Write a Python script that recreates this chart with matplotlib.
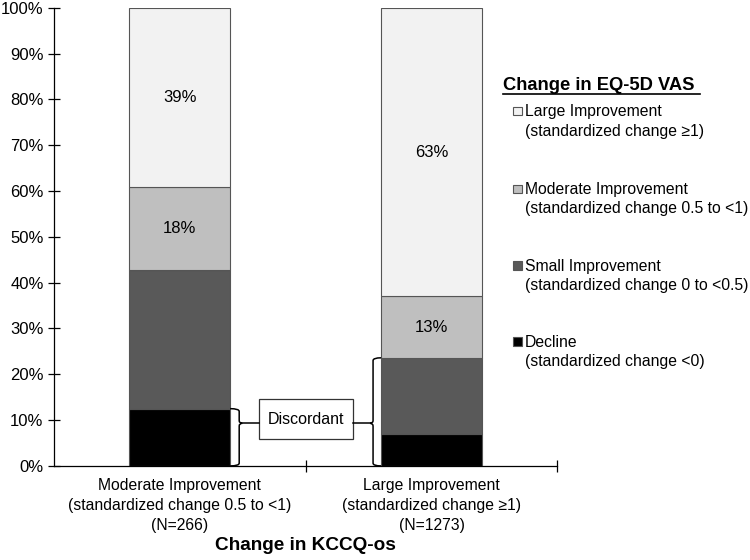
import numpy as np
import matplotlib
matplotlib.use('Agg')
import matplotlib.pyplot as plt
from matplotlib.patches import Rectangle, PathPatch
from matplotlib.path import Path

plt.rcParams['font.family'] = ['Liberation Sans', 'DejaVu Sans']

# data (percent of patients)
groups = ['Moderate Improvement\n(standardized change 0.5 to <1)\n(N=266)',
          'Large Improvement\n(standardized change \u22651)\n(N=1273)']
decline = [12.5, 7.0]
small = [30.3, 16.6]
moderate = [18.1, 13.4]
large = [39.1, 63.0]
shown = {'moderate': ['18%', '13%'], 'large': ['39%', '63%']}

series = [
    ('Decline\n(standardized change <0)', decline, '#000000'),
    ('Small Improvement\n(standardized change 0 to <0.5)', small, '#595959'),
    ('Moderate Improvement\n(standardized change 0.5 to <1)', moderate, '#bfbfbf'),
    ('Large Improvement\n(standardized change \u22651)', large, '#f2f2f2'),
]

fig = plt.figure(figsize=(7.5, 5.6), dpi=100)
ax = fig.add_axes([0.072, 0.168, 0.671, 0.818])

x = np.arange(len(groups))
w = 0.4
bottom = np.zeros(len(groups))
bars = {}
for name, vals, col in series:
    ax.bar(x, vals, w, bottom=bottom, color=col, edgecolor='#555555', linewidth=0.8)
    bars[name.split('\n')[0]] = (bottom.copy(), np.array(vals))
    bottom += np.array(vals)

# percentage labels inside the bars
for key, lab in [('Moderate Improvement', 'moderate'), ('Large Improvement', 'large')]:
    b0, v = bars[key]
    for i in range(len(groups)):
        ax.text(x[i], b0[i] + v[i] / 2, shown[lab][i], ha='center', va='center', fontsize=12)

ax.set_xlim(-0.5, 1.5)
ax.set_ylim(0, 100)
ax.set_yticks(np.arange(0, 101, 10))
ax.set_yticklabels(['%d%%' % t for t in range(0, 101, 10)], fontsize=12)
ax.set_xticks(x)
ax.set_xticklabels(groups, fontsize=11.3, linespacing=1.4)
ax.set_xticks([0.5, 1.5], minor=True)
ax.tick_params(axis='x', which='major', length=0, pad=9)
ax.tick_params(axis='x', which='minor', direction='inout', length=9, width=0.9)
ax.tick_params(axis='y', direction='inout', length=9, width=0.9, pad=3)
ax.spines['top'].set_visible(False)
ax.spines['right'].set_visible(False)
ax.spines['left'].set_linewidth(0.9)
ax.spines['bottom'].set_linewidth(0.9)
ax.set_xlabel('Change in KCCQ-os', fontsize=13.7, fontweight='bold', labelpad=3)


def brace(ax, xe, xs, xt, y0, y1, yt):
    # curly bracket: ends at xe, spine at xs, tip at xt
    d = 0.6
    verts = [(xe, y1), (xs, y1), (xs, y1 - d),
             (xs, yt + d), (xs, yt), (xt, yt),
             (xs, yt), (xs, yt - d),
             (xs, y0 + d), (xs, y0), (xe, y0)]
    codes = [Path.MOVETO, Path.CURVE3, Path.CURVE3,
             Path.LINETO, Path.CURVE3, Path.CURVE3,
             Path.CURVE3, Path.CURVE3,
             Path.LINETO, Path.CURVE3, Path.CURVE3]
    ax.add_patch(PathPatch(Path(verts, codes), fill=False, lw=1.1, color='black', clip_on=False))


yt = 9.3
top_left = decline[0]
top_right = decline[1] + small[1]
brace(ax, 0.2, 0.236, 0.248, 0, top_left, yt)
ax.plot([0.248, 0.315], [yt, yt], color='black', lw=1.1)
ax.add_patch(Rectangle((0.315, 5.9), 0.374, 8.7, fill=False, edgecolor='#333333', lw=0.9))
ax.text(0.502, 10.2, 'Discordant', ha='center', va='center', fontsize=11.5)
brace(ax, 0.8, 0.768, 0.756, 0, top_right, yt)
ax.plot([0.689, 0.756], [yt, yt], color='black', lw=1.1)

# legend
fig.text(0.671, 0.848, 'Change in EQ-5D VAS', fontsize=13.2, fontweight='bold', va='center')
fig.add_artist(plt.Line2D([0.671, 0.933], [0.833, 0.833], color='black', lw=1.2))
ys = [0.783, 0.644, 0.507, 0.372]
for (name, vals, col), yy in zip(series[::-1], ys):
    fig.patches.append(Rectangle((0.684, yy + 0.011), 0.0115, 0.0155, facecolor=col,
                                 edgecolor='#555555', lw=0.8, transform=fig.transFigure))
    fig.text(0.700, yy, name, fontsize=11.3, va='center', linespacing=1.35)

fig.savefig('out.png', dpi=100)
